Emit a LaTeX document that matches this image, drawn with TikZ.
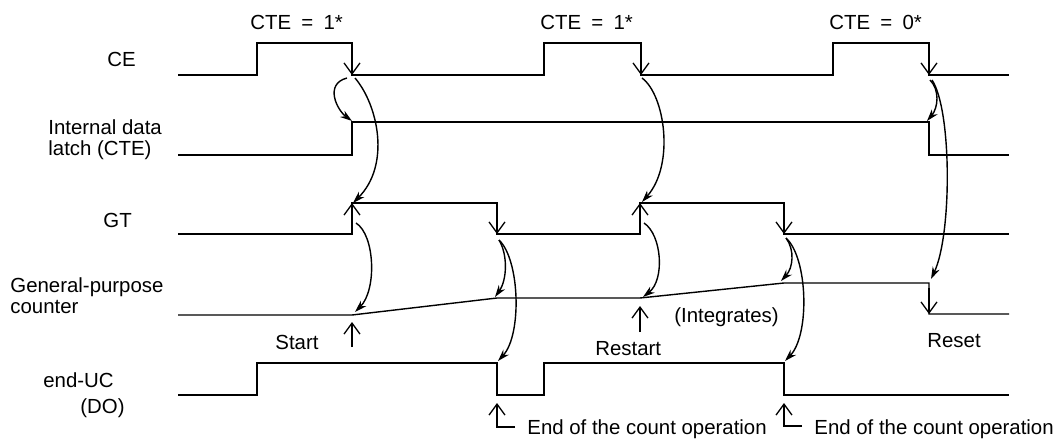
\documentclass[tikz,border=0pt]{standalone}
\usepackage{fontspec}
\setmainfont{Liberation Sans}
\usetikzlibrary{arrows.meta}
\tikzset{
  wave/.style={line width=0.7pt, line join=miter},
  edgemark/.style={line width=0.65pt, -{Straight Barb[length=5.5pt,width=8pt,line width=0.65pt]}},
  cause/.style={line width=0.7pt, -{Stealth[length=6pt,width=3.8pt]}},
  lbl/.style={anchor=base west, inner sep=0pt, font=\fontsize{10.2}{12}\selectfont},
}
\begin{document}
\begin{tikzpicture}[x=0.5pt,y=-0.5pt]
\useasboundingbox (0,0) rectangle (1056,439);
% signal names
\node[lbl] (tCE) at (107,67) {CE};
\node[lbl] (tIL1) at (48,134) {Internal data};
\node[lbl] (tIL2) at (48,155) {latch (CTE)};
\node[lbl] (tGT) at (103,227) {GT};
\node[lbl] (tGC1) at (10,292) {General-purpose};
\node[lbl] (tGC2) at (10,313) {counter};
\node[lbl] (tEU1) at (43,387) {end-UC};
\node[lbl] (tEU2) at (80,413) {(DO)};
% top labels
\node[lbl] (cte1) at (250,29) {CTE\enspace=\enspace1*};
\node[lbl] (cte2) at (540,29) {CTE\enspace=\enspace1*};
\node[lbl] (cte3) at (829,29) {CTE\enspace=\enspace0*};
% waveforms
\draw[wave] (178,75) -- (257,75) -- (257,43) -- (352,43) -- (352,75) -- (544,75) -- (544,43) -- (641,43) -- (641,75) -- (833,75) -- (833,43) -- (929,43) -- (929,75) -- (1009,75);
\draw[wave] (178,155) -- (352,155) -- (352,122) -- (929,122) -- (929,155) -- (1009,155);
\draw[wave] (178,234) -- (352,234) -- (352,203) -- (497,203) -- (497,234) -- (640,234) -- (640,203) -- (784,203) -- (784,234) -- (1009,234);
\draw[wave] (178,315) -- (352,315) -- (497,298) -- (640,298) -- (784,283) -- (929,283) -- (929,314) -- (1009,314);
\draw[wave] (178,395) -- (257,395) -- (257,363) -- (497,363) -- (497,395) -- (544,395) -- (544,363) -- (784,363) -- (784,395) -- (1009,395);
% edge markers
\coordinate (ce1) at (352,75); \coordinate (ce2) at (641,75); \coordinate (ce3) at (929,75);
\coordinate (gtr1) at (352,203); \coordinate (gtr2) at (640,203);
\coordinate (gtf1) at (497,234); \coordinate (gtf2) at (784,234);
\coordinate (rst) at (929,314);
\draw[edgemark] (352,50) -- (ce1);
\draw[edgemark] (641,50) -- (ce2);
\draw[edgemark] (929,50) -- (ce3);
\draw[edgemark] (352,228) -- (gtr1);
\draw[edgemark] (640,228) -- (gtr2);
\draw[edgemark] (497,208) -- (gtf1);
\draw[edgemark] (784,208) -- (gtf2);
\draw[edgemark] (929,288) -- (rst);
% start / restart markers
\coordinate (st0) at (352,347); \coordinate (st1) at (352,322);
\coordinate (rs0) at (640,332); \coordinate (rs1) at (640,306);
\draw[edgemark] (st0) -- (st1);
\draw[edgemark] (rs0) -- (rs1);
\coordinate (e1a) at (515,427); \coordinate (e1b) at (497,427); \coordinate (e1c) at (497,403);
\coordinate (e2a) at (802,426); \coordinate (e2b) at (784,426); \coordinate (e2c) at (784,403);
\draw[edgemark] (e1a) -- (e1b) -- (e1c);
\draw[edgemark] (e2a) -- (e2b) -- (e2c);
% cause arrows
\coordinate (a1) at (347,78); \coordinate (b1) at (352,121);
\coordinate (a2) at (355,78); \coordinate (b2) at (353,203);
\coordinate (a3) at (356,223); \coordinate (b3) at (355,312);
\coordinate (a4) at (499,240); \coordinate (b4) at (495,297); \coordinate (c4) at (498,361);
\coordinate (a5) at (642,78); \coordinate (b5) at (642,202);
\coordinate (a6) at (644,223); \coordinate (b6) at (643,297);
\coordinate (a7) at (786,238); \coordinate (b7) at (781,281); \coordinate (c7) at (785,361);
\coordinate (a8) at (930,80); \coordinate (b8) at (927,121);
\coordinate (a9) at (932,80); \coordinate (b9) at (931,279);
\draw[cause] (a1) .. controls (324,84) and (337,110) .. (b1);
\draw[cause] (a2) .. controls (378,105) and (391,165) .. (b2);
\draw[cause] (a3) .. controls (375,235) and (377,290) .. (b3);
\draw[cause] (a4) .. controls (508,255) and (507,280) .. (b4);
\draw[cause] (a4) .. controls (520,260) and (522,335) .. (c4);
\draw[cause] (a5) .. controls (665,95) and (675,165) .. (b5);
\draw[cause] (a6) .. controls (662,235) and (665,280) .. (b6);
\draw[cause] (a7) .. controls (795,250) and (793,268) .. (b7);
\draw[cause] (a7) .. controls (808,258) and (810,335) .. (c7);
\draw[cause] (a8) .. controls (940,90) and (938,108) .. (b8);
\draw[cause] (a9) .. controls (952,110) and (952,235) .. (b9);
% annotations
\node[lbl] (tStart) at (275,349) {Start};
\node[lbl] (tRestart) at (595,355) {Restart};
\node[lbl] (tReset) at (927,347) {Reset};
\node[lbl] (tInt) at (674,322) {(Integrates)};
\node[lbl] (tEnd1) at (527,434) {End of the count operation};
\node[lbl] (tEnd2) at (814,434) {End of the count operation};
\end{tikzpicture}
\end{document}
